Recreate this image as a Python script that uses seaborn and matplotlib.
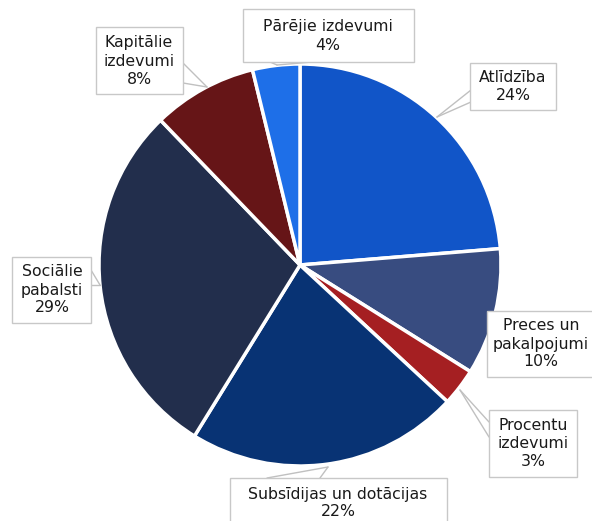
import matplotlib
matplotlib.use("Agg")
import matplotlib.pyplot as plt
import seaborn as sns
from matplotlib.patches import Rectangle

# Dati
kategorijas = ['Atlīdzība', 'Preces un\npakalpojumi', 'Procentu\nizdevumi',
               'Subsīdijas un dotācijas', 'Sociālie\npabalsti',
               'Kapitālie\nizdevumi', 'Pārējie izdevumi']
vertibas = [23.7, 10.2, 3.0, 21.9, 29.0, 8.4, 3.8]
krasas = ['#1155C8', '#384C80', '#A51F22', '#083374', '#222E4C', '#661517', '#1E6FE8']

W, H = 592, 521

# Izkārtojums pikseļos: kaste (x0, y0, x1, y1), rādītāja pamats un gals
kastes = [
    ((470, 63, 556, 110), [(471, 90), (471, 102)], (437, 117)),
    ((487, 311, 610, 377), None, None),
    ((489, 410, 577, 477), [(489, 422), (489, 437)], (460, 390)),
    ((230, 478, 447, 540), [(267, 478), (320, 478)], (328, 467)),
    ((12, 257, 91, 323), [(91, 270), (91, 285)], (100, 285)),
    ((96, 27, 183, 94), [(183, 63), (183, 83)], (207, 87)),
    ((243, 9, 414, 62), [(270, 62), (312, 62)], (277, 65)),
]
teksta_centri = [(513, 87), (541, 344), (533, 443), (338, 503), (52, 290), (139, 61), (328, 36)]


def fy(y):
    return H - y


sns.set_theme(style="white")
plt.rcParams['font.family'] = ['DejaVu Sans']

fig = plt.figure(figsize=(W / 100, H / 100), dpi=100)
ax = fig.add_axes([0, 0, 1, 1])

ax.pie(vertibas, colors=sns.color_palette(krasas), startangle=90, counterclock=False,
       center=(300, fy(265)), radius=201,
       wedgeprops=dict(edgecolor='white', linewidth=2.5))

for i, (kaste, pamats, gals) in enumerate(kastes):
    x0, y0, x1, y1 = kaste
    ax.add_patch(Rectangle((x0, fy(y1)), x1 - x0, y1 - y0, facecolor='white',
                           edgecolor='#C8C8C8', linewidth=1, zorder=5))
    if pamats is not None:
        for px, py in pamats:
            ax.plot([px, gals[0]], [fy(py), fy(gals[1])], color='#C0C0C0',
                    linewidth=1, zorder=4)
    teksts = f"{kategorijas[i]}\n{round(vertibas[i])}%"
    tx, ty = teksta_centri[i]
    ax.text(tx, fy(ty), teksts, ha='center', va='center', fontsize=11.3,
            color='#1A1A1A', linespacing=1.25, zorder=6)

ax.set_xlim(0, W)
ax.set_ylim(0, H)
ax.set_aspect('equal')
ax.axis('off')

fig.savefig('out.png', dpi=100)
plt.close(fig)
